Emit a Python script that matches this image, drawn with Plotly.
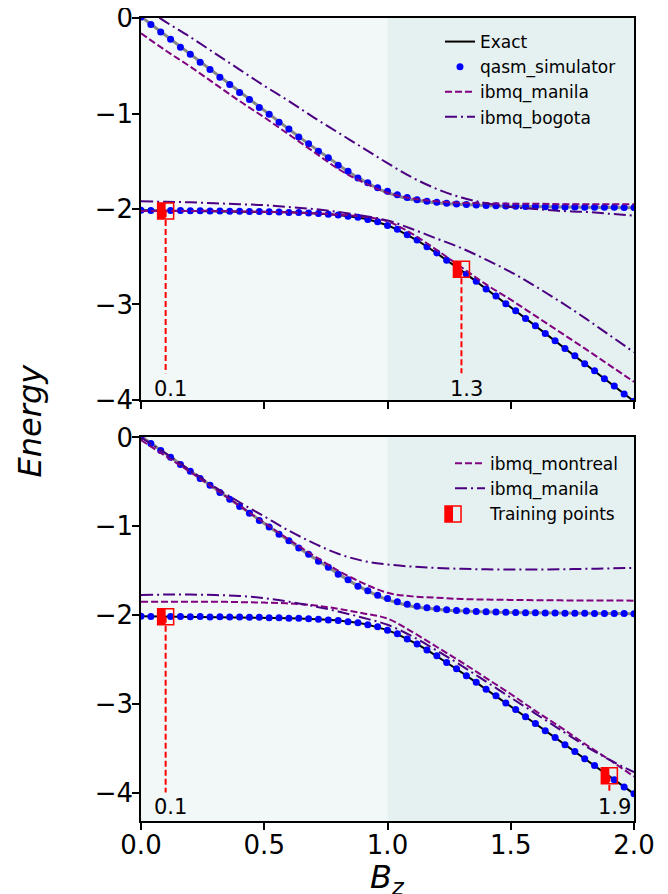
import plotly.graph_objects as go

# ---------------- data ----------------
b_grid = [0.00, 0.04, 0.08, 0.12, 0.16, 0.20, 0.24, 0.28, 0.32, 0.36,
          0.40, 0.44, 0.48, 0.52, 0.56, 0.60, 0.64, 0.68, 0.72, 0.76,
          0.80, 0.84, 0.88, 0.92, 0.96, 1.00, 1.04, 1.08, 1.12, 1.16,
          1.20, 1.24, 1.28, 1.32, 1.36, 1.40, 1.44, 1.48, 1.52, 1.56,
          1.60, 1.64, 1.68, 1.72, 1.76, 1.80, 1.84, 1.88, 1.92, 1.96, 2.00]

exact_upper = [0.014, -0.065, -0.144, -0.224, -0.303, -0.382, -0.461, -0.540, -0.619, -0.698,
               -0.776, -0.855, -0.933, -1.011, -1.088, -1.165, -1.242, -1.318, -1.392, -1.466,
               -1.538, -1.607, -1.672, -1.732, -1.785, -1.830, -1.865, -1.892, -1.912, -1.926,
               -1.937, -1.946, -1.952, -1.958, -1.962, -1.965, -1.968, -1.971, -1.973, -1.975,
               -1.976, -1.978, -1.979, -1.980, -1.981, -1.982, -1.983, -1.984, -1.984, -1.985, -1.986]
exact_lower = [-2.014, -2.015, -2.016, -2.016, -2.017, -2.018, -2.019, -2.020, -2.021, -2.022,
               -2.024, -2.025, -2.027, -2.029, -2.032, -2.035, -2.038, -2.042, -2.048, -2.054,
               -2.063, -2.074, -2.088, -2.108, -2.135, -2.170, -2.215, -2.268, -2.328, -2.393,
               -2.462, -2.534, -2.608, -2.682, -2.758, -2.835, -2.912, -2.989, -3.067, -3.145,
               -3.224, -3.302, -3.381, -3.460, -3.539, -3.618, -3.697, -3.776, -3.856, -3.935, -4.014]

qasm_upper = [0.010, -0.068, -0.146, -0.222, -0.305, -0.380, -0.463, -0.538, -0.621, -0.697,
              -0.779, -0.853, -0.936, -1.009, -1.091, -1.163, -1.245, -1.316, -1.395, -1.463,
              -1.541, -1.604, -1.676, -1.726, -1.778, -1.815, -1.850, -1.880, -1.902, -1.918,
              -1.930, -1.940, -1.948, -1.954, -1.959, -1.963, -1.966, -1.969, -1.972, -1.974,
              -1.975, -1.977, -1.978, -1.979, -1.980, -1.981, -1.982, -1.983, -1.983, -1.984, -1.985]
qasm_lower = [-2.013, -2.016, -2.015, -2.017, -2.016, -2.019, -2.018, -2.021, -2.020, -2.023,
              -2.023, -2.026, -2.026, -2.030, -2.031, -2.036, -2.037, -2.043, -2.047, -2.055,
              -2.062, -2.075, -2.087, -2.110, -2.133, -2.172, -2.212, -2.270, -2.325, -2.395,
              -2.460, -2.536, -2.606, -2.684, -2.756, -2.837, -2.910, -2.991, -3.065, -3.147,
              -3.222, -3.304, -3.379, -3.462, -3.537, -3.620, -3.695, -3.778, -3.854, -3.937, -4.012]

b_dev = [0.0, 0.1, 0.2, 0.3, 0.4, 0.5, 0.6, 0.7, 0.8, 0.9, 1.0,
         1.1, 1.2, 1.3, 1.4, 1.5, 1.6, 1.7, 1.8, 1.9, 2.0]

# top panel devices
manila_top_upper = [-0.16, -0.34, -0.51, -0.69, -0.87, -1.04, -1.22, -1.40, -1.58, -1.72, -1.83,
                    -1.89, -1.92, -1.935, -1.94, -1.945, -1.945, -1.95, -1.95, -1.95, -1.95]
manila_top_lower = [-2.02, -2.02, -2.02, -2.02, -2.025, -2.03, -2.035, -2.045, -2.06, -2.08, -2.13,
                    -2.26, -2.43, -2.61, -2.79, -2.95, -3.12, -3.29, -3.46, -3.635, -3.81]
bogota_top_upper = [0.13, -0.04, -0.20, -0.37, -0.54, -0.71, -0.87, -1.04, -1.20, -1.36, -1.52,
                    -1.67, -1.79, -1.88, -1.94, -1.98, -2.00, -2.02, -2.03, -2.05, -2.07]
bogota_top_lower = [-1.92, -1.925, -1.93, -1.94, -1.95, -1.96, -1.98, -2.00, -2.03, -2.07, -2.12,
                    -2.21, -2.31, -2.41, -2.53, -2.66, -2.81, -2.97, -3.14, -3.32, -3.50]

# bottom panel devices
montreal_bot_upper = [-0.03, -0.21, -0.39, -0.58, -0.77, -0.96, -1.15, -1.33, -1.50, -1.64, -1.75,
                      -1.79, -1.805, -1.82, -1.826, -1.83, -1.833, -1.835, -1.836, -1.837, -1.838]
montreal_bot_lower = [-1.85, -1.85, -1.85, -1.85, -1.855, -1.86, -1.87, -1.89, -1.93, -1.98, -2.04,
                      -2.19, -2.36, -2.53, -2.71, -2.89, -3.08, -3.26, -3.45, -3.63, -3.82]
manila_bot_upper = [0.0, -0.18, -0.37, -0.56, -0.73, -0.89, -1.05, -1.19, -1.31, -1.39, -1.43,
                    -1.455, -1.47, -1.48, -1.485, -1.488, -1.488, -1.485, -1.48, -1.475, -1.47]
manila_bot_lower = [-1.775, -1.77, -1.77, -1.775, -1.785, -1.81, -1.85, -1.90, -1.96, -2.03, -2.11,
                    -2.24, -2.40, -2.57, -2.75, -2.93, -3.11, -3.29, -3.47, -3.63, -3.77]

train_top_b = [0.1, 1.3]
train_top_e = [-2.02, -2.63]
train_bot_b = [0.1, 1.9]
train_bot_e = [-2.02, -3.81]
train_top_labels = ["0.1", "1.3"]
train_bot_labels = ["0.1", "1.9"]

shade_edges = [0.0, 1.0, 2.0]
x_ticks = [0.0, 0.5, 1.0, 1.5, 2.0]
y_ticks = [0, -1, -2, -3, -4]

# ---------------- styles ----------------
FONT = "DejaVu Sans"
C_MANILA = "#800080"
C_BOGOTA = "#4b0082"
shade_colors = ["rgb(242,248,248)", "rgb(229,240,240)"]
DASH = "7px,3px"
DASHDOT = "12px,4px,2px,4px"

fig = go.Figure()

panels = [
    dict(xa="x", ya="y", leg="legend",
         devices=[("ibmq_manila", C_MANILA, DASH, manila_top_upper, manila_top_lower),
                  ("ibmq_bogota", C_BOGOTA, DASHDOT, bogota_top_upper, bogota_top_lower)],
         tb=train_top_b, te=train_top_e, tl=train_top_labels, vbot=-3.72, ly=-3.88, show=True),
    dict(xa="x2", ya="y2", leg="legend2",
         devices=[("ibmq_montreal", C_MANILA, DASH, montreal_bot_upper, montreal_bot_lower),
                  ("ibmq_manila", C_BOGOTA, DASHDOT, manila_bot_upper, manila_bot_lower)],
         tb=train_bot_b, te=train_bot_e, tl=train_bot_labels, vbot=-4.0, ly=-4.16, show=False),
]

shapes = []
annotations = []


def half_square(xref, yref, xa, ya, size=8):
    """Left-half-filled red square, anchored at (xa, ya), pixel sized."""
    return [
        dict(type="rect", xref=xref, yref=yref, xsizemode="pixel", ysizemode="pixel",
             xanchor=xa, yanchor=ya, x0=-size, x1=0, y0=-size, y1=size,
             fillcolor="red", line_width=0, layer="above"),
        dict(type="rect", xref=xref, yref=yref, xsizemode="pixel", ysizemode="pixel",
             xanchor=xa, yanchor=ya, x0=-size, x1=size, y0=-size, y1=size,
             fillcolor="rgba(0,0,0,0)", line=dict(color="red", width=1.5), layer="above"),
    ]


for p in panels:
    xa, ya, leg = p["xa"], p["ya"], p["leg"]
    for i in range(len(shade_edges) - 1):
        shapes.append(dict(type="rect", xref=xa, yref=ya + " domain", x0=shade_edges[i],
                           x1=shade_edges[i + 1], y0=0, y1=1, fillcolor=shade_colors[i],
                           line_width=0, layer="below"))
    fig.add_trace(go.Scatter(x=b_grid, y=exact_upper, mode="lines", line=dict(color="#888888", width=3),
                             xaxis=xa, yaxis=ya, showlegend=False, hoverinfo="skip"))
    fig.add_trace(go.Scatter(x=b_grid, y=exact_lower, mode="lines", line=dict(color="black", width=2),
                             xaxis=xa, yaxis=ya, name="Exact", showlegend=p["show"], legend=leg))
    for k, arr in enumerate([qasm_upper, qasm_lower]):
        fig.add_trace(go.Scatter(x=b_grid, y=arr, mode="markers",
                                 marker=dict(color="#0000ff", size=7, line_width=0),
                                 xaxis=xa, yaxis=ya, name="qasm_simulator",
                                 showlegend=(p["show"] and k == 0), legend=leg))
    for name, col, dash, up, lo in p["devices"]:
        for k, arr in enumerate([up, lo]):
            fig.add_trace(go.Scatter(x=b_dev, y=arr, mode="lines", line_shape="spline",
                                     line=dict(color=col, width=2, dash=dash),
                                     xaxis=xa, yaxis=ya, name=name, showlegend=(k == 0),
                                     legend=leg))
    for bx, be, lab in zip(p["tb"], p["te"], p["tl"]):
        fig.add_trace(go.Scatter(x=[bx, bx], y=[be, p["vbot"]], mode="lines",
                                 line=dict(color="red", width=2, dash="6px,3px"),
                                 xaxis=xa, yaxis=ya, showlegend=False, hoverinfo="skip"))
        annotations.append(dict(x=bx, y=p["ly"], xref=xa, yref=ya, text=lab, showarrow=False,
                                xshift=5, font=dict(family=FONT, size=21, color="black")))
        shapes.extend(half_square(xa, ya, bx, be))

# legend entry for training points (icon drawn as shapes)
fig.add_trace(go.Scatter(x=[None], y=[None], mode="markers", name="Training points",
                         marker=dict(symbol="square", color="rgba(0,0,0,0)", size=16,
                                     line=dict(width=0, color="rgba(0,0,0,0)")),
                         xaxis="x2", yaxis="y2", legend="legend2"))
shapes.extend(half_square("paper", "paper", 0.6329, 0.3823))

annotations.append(dict(text="<i>Energy</i>", x=-0.225, y=0.499, xref="paper", yref="paper",
                        textangle=-90, showarrow=False, xanchor="center", yanchor="middle",
                        font=dict(family=FONT, size=32, color="black")))
annotations.append(dict(text="<i>B<sub>z</sub></i>", x=0.5, y=-0.0436, xref="paper", yref="paper",
                        showarrow=False, xanchor="center", yanchor="top",
                        font=dict(family=FONT, size=32, color="black")))

axis_common = dict(showgrid=False, zeroline=False, showline=True, linecolor="black", linewidth=1.6,
                   mirror=True, ticks="outside", ticklen=7, tickwidth=1.6, tickcolor="black",
                   automargin=False, ticklabeloverflow="allow",
                   tickfont=dict(family=FONT, size=26, color="black"))

fig.update_layout(
    width=660, height=886,
    margin=dict(l=133, r=34, t=10, b=73, autoexpand=False),
    paper_bgcolor="white", plot_bgcolor="white",
    font=dict(family=FONT, color="black"),
    shapes=shapes, annotations=annotations,
    xaxis=dict(axis_common, domain=[0, 1], range=[0, 2], tickvals=x_ticks, showticklabels=False,
               anchor="y", matches="x2"),
    yaxis=dict(axis_common, domain=[0.5243, 1], range=[-4, 0], tickvals=y_ticks, anchor="x",
               ticklabelstandoff=-6),
    xaxis2=dict(axis_common, domain=[0, 1], range=[0, 2], tickvals=x_ticks, tickformat=".1f",
                anchor="y2", ticklabelstandoff=-7),
    yaxis2=dict(axis_common, domain=[0, 0.4782], range=[-4.32, 0.005], tickvals=y_ticks,
                anchor="x2", ticklabelstandoff=-6),
    legend=dict(x=0.9736, y=0.9925, xanchor="right", yanchor="top", bgcolor="rgba(0,0,0,0)",
                font=dict(family=FONT, size=17, color="black")),
    legend2=dict(x=0.9777, y=0.4674, xanchor="right", yanchor="top", bgcolor="rgba(0,0,0,0)",
                 font=dict(family=FONT, size=17, color="black")),
)

fig.write_html("out.html")
